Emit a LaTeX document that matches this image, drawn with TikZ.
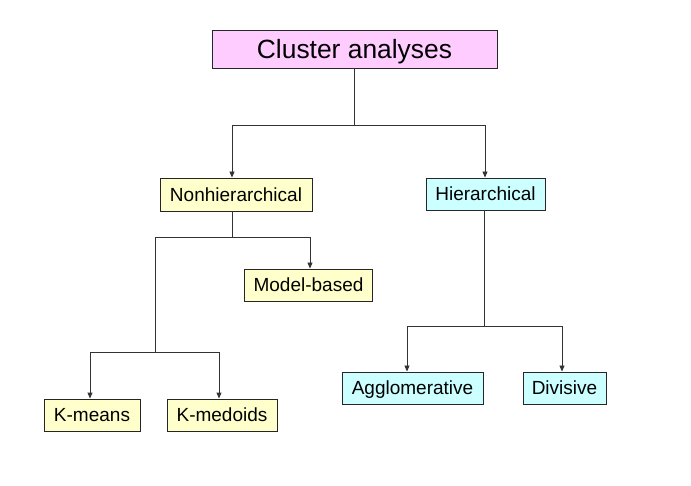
\documentclass[tikz,border=0pt]{standalone}
\usepackage{fontspec}
\setmainfont{Liberation Sans}
\usetikzlibrary{positioning,arrows.meta}

\definecolor{boxpink}{RGB}{255,204,255}
\definecolor{boxyellow}{RGB}{255,255,204}
\definecolor{boxcyan}{RGB}{204,255,255}

\begin{document}
\begin{tikzpicture}[
  x=1pt, y=-1pt,
  box/.style={rectangle, draw=black!85, line width=0.9pt, inner sep=0pt, minimum height=32pt, text height=14pt, text depth=0.5pt, font=\fontsize{19}{22}\selectfont},
  arrow/.style={-{Triangle[length=6pt,width=5pt]}, line width=0.9pt, draw=black!80},
  link/.style={line width=0.9pt, draw=black!80},
]
\useasboundingbox (0,0) rectangle (691,486);

% === BOXES ===
\node[box, fill=boxpink, minimum width=285pt, minimum height=38pt, text height=19pt, text depth=0pt, font=\fontsize{26.4}{30}\selectfont] (top) at (354.5,49) {Cluster analyses};

\node[box, fill=boxyellow, minimum width=152pt, minimum height=33pt] (nonh) at (236,194.5) {Nonhierarchical};
\node[box, fill=boxcyan, minimum width=119pt] (hier) at (485.5,194) {Hierarchical};

\node[box, fill=boxyellow, minimum width=128pt] (model) at (308.5,285) {Model-based};
\node[box, fill=boxyellow, minimum width=96pt] (kmeans) at (92,415) {K-means};
\node[box, fill=boxyellow, minimum width=110pt] (kmed) at (222,415) {K-medoids};

\node[box, fill=boxcyan, minimum width=141pt] (aggl) at (412.5,388) {Agglomerative};
\node[box, fill=boxcyan, minimum width=83pt] (divi) at (564.5,388) {Divisive};

% === CONNECTORS ===
\draw[link] (top.south) -- ++(0,57) coordinate (t1);
\draw[arrow] (t1) -| ([xshift=-4pt]nonh.north);
\draw[arrow] (t1) -| ([xshift=-0.5pt]hier.north);

\draw[link] ([xshift=-4pt]nonh.south) -- ++(0,26) coordinate (n1);
\draw[arrow] (n1) -| ([xshift=1.5pt]model.north);
\draw[link] (n1) -| (155,352.5) coordinate (n2);
\draw[arrow] (n2) -| ([xshift=-2pt]kmeans.north);
\draw[arrow] (n2) -| ([xshift=-3pt]kmed.north);

\draw[link] ([xshift=-1.5pt]hier.south) -- ++(0,116.5) coordinate (h1);
\draw[arrow] (h1) -| ([xshift=-5.5pt]aggl.north);
\draw[arrow] (h1) -| ([xshift=-2.5pt]divi.north);
\end{tikzpicture}
\end{document}
